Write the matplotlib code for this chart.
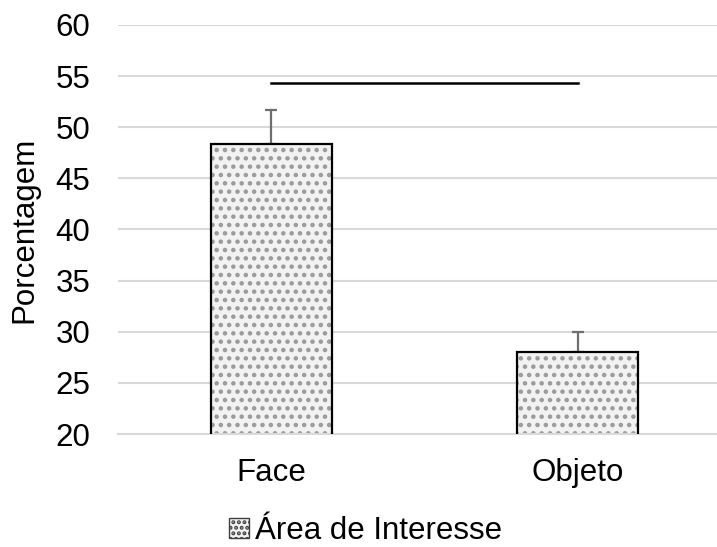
import numpy as np
import matplotlib.pyplot as plt
from matplotlib.patches import Patch

plt.rcParams['font.family'] = ['Liberation Sans', 'DejaVu Sans']
plt.rcParams['hatch.linewidth'] = 2.0

categorias = ['Face', 'Objeto']
medias = [48.4, 28.0]
erros = [3.3, 2.0]
linha_sig = 54.35

cinza_grade = '#d9d9d9'
cinza_ponto = '#9a9a9a'
fundo = '#f2f2f2'
fs = 22.5

fig = plt.figure(figsize=(7.17, 5.47), dpi=100)
ax = fig.add_axes([118 / 717, 113 / 547, 613 / 717, 409 / 547])

x = np.arange(len(categorias))
largura = 0.394

# preenchimento pontilhado
ax.bar(x, medias, largura, color=fundo, edgecolor=cinza_ponto, hatch='..',
       linewidth=0, zorder=2)
# contorno preto
ax.bar(x, medias, largura, fill=False, edgecolor='black', linewidth=1.6, zorder=3)

# barras de erro só para cima
ax.errorbar(x, medias, yerr=[np.zeros(len(erros)), erros], fmt='none',
            ecolor='#6e6e6e', elinewidth=1.6, capsize=4.5, capthick=1.6, zorder=1)

# linha de significância entre as duas áreas
ax.plot([x[0], x[1]], [linha_sig, linha_sig], color='black', linewidth=1.8, zorder=4)

ax.set_xlim(-0.5, 1.5)
ax.set_ylim(20, 60)
ax.set_yticks(np.arange(20, 61, 5))
ax.set_xticks(x)
ax.set_xticklabels(categorias)
ax.tick_params(axis='y', length=0, pad=20, labelsize=fs)
ax.tick_params(axis='x', length=0, pad=17, labelsize=fs)
ax.grid(axis='y', color=cinza_grade, linewidth=1.5, zorder=0)
ax.set_axisbelow(True)
for lado in ['top', 'right', 'left']:
    ax.spines[lado].set_visible(False)
ax.spines['bottom'].set_color(cinza_grade)
ax.spines['bottom'].set_linewidth(1.5)
ax.set_ylabel('Porcentagem', fontsize=fs)
ax.yaxis.set_label_coords(-0.128, 0.5)

patch = Patch(facecolor=fundo, edgecolor=cinza_ponto, hatch='...', linewidth=1)
leg = fig.legend(handles=[patch], labels=['Área de Interesse'], loc='center',
                 bbox_to_anchor=(0.51, 1 - 531 / 547), frameon=False, fontsize=fs,
                 handlelength=0.65, handleheight=0.65, handletextpad=0.2)
leg.get_patches()[0].set_edgecolor('#404040')

fig.savefig('out.png', dpi=100)
